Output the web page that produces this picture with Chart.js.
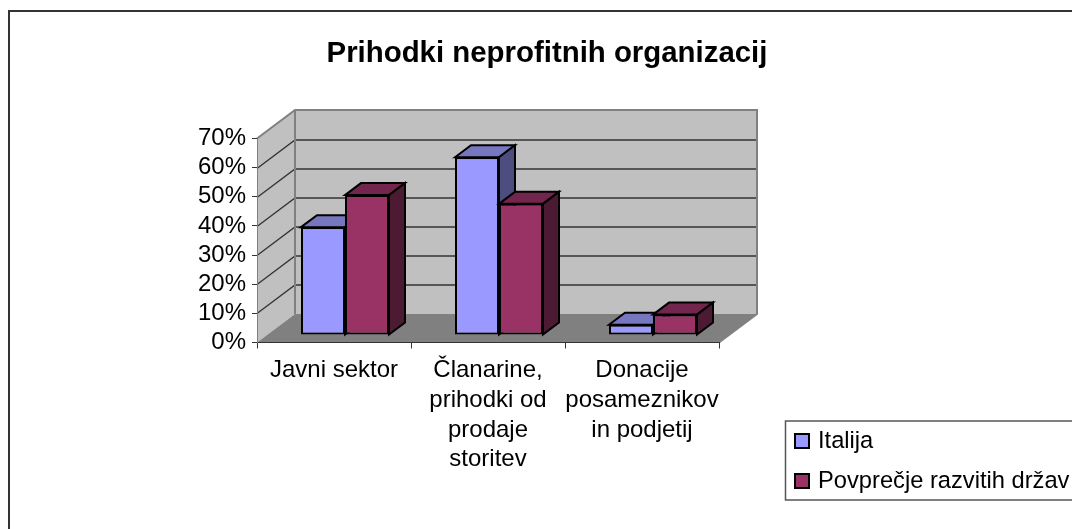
<!DOCTYPE html>
<html>
<head>
<meta charset="utf-8">
<title>Prihodki neprofitnih organizacij</title>
<script src="https://cdn.jsdelivr.net/npm/chart.js@4"></script>
<style>
    body { margin: 0; background: #fff; }
    canvas { display: block; }
</style>
</head>
<body>
<canvas id="graf" width="1072" height="529"></canvas>
<script>
const naslov = 'Prihodki neprofitnih organizacij';
const kategorije = [
    ['Javni sektor'],
    ['Članarine,', 'prihodki od', 'prodaje', 'storitev'],
    ['Donacije', 'posameznikov', 'in podjetij']
];
const italija = [37, 61, 3.5];
const povprecje = [48, 45, 7];
const imenaSerij = ['Italija', 'Povprečje razvitih držav'];

const pisava = 'Arial, "Liberation Sans", sans-serif';

// globina "3D" ozadja in stolpcev
const stena = { dx: 38, dy: 28.5 };
const zamik = { dx: 11, dy: 7.5 };
const stolpec = { dx: 16, dy: 12 };

function lik(ctx, tocke, barva) {
    ctx.beginPath();
    tocke.forEach((t, i) => i ? ctx.lineTo(t[0], t[1]) : ctx.moveTo(t[0], t[1]));
    ctx.closePath();
    ctx.fillStyle = barva;
    ctx.fill();
}

const ozadje3d = {
    id: 'ozadje3d',
    afterLayout(chart) {
        // naslov je centriran na celotno sliko z odmikom, ne na podrocje grafa
        chart.titleBlock.left = 22;
        chart.titleBlock.right = 1072;
    },
    beforeDraw(chart) {
        const ctx = chart.ctx;
        const { left, right, top, bottom } = chart.chartArea;
        const y = chart.scales.y;
        const zl = left + stena.dx, zr = right + stena.dx;
        const zt = top - stena.dy, zb = bottom - stena.dy;

        ctx.save();
        // okvir grafa
        ctx.strokeStyle = '#333333';
        ctx.lineWidth = 2;
        ctx.beginPath();
        ctx.moveTo(9, 529);
        ctx.lineTo(9, 11);
        ctx.lineTo(1072, 11);
        ctx.stroke();

        lik(ctx, [[zl, zt], [zr, zt], [zr, zb], [zl, zb]], '#c0c0c0');
        lik(ctx, [[left, top], [zl, zt], [zl, zb], [left, bottom]], '#c0c0c0');
        lik(ctx, [[left, bottom], [right, bottom], [zr, zb], [zl, zb]], '#808080');

        // mreza na steni
        ctx.strokeStyle = '#333333';
        ctx.lineWidth = 1.3;
        y.ticks.forEach(t => {
            if (t.value === 0 || t.value === y.max) return;
            const py = Math.round(y.getPixelForValue(t.value)) + 0.5;
            ctx.beginPath();
            ctx.moveTo(left, py);
            ctx.lineTo(zl, py - stena.dy);
            ctx.lineTo(zr, py - stena.dy);
            ctx.stroke();
        });

        // robovi sten
        ctx.strokeStyle = '#808080';
        ctx.lineWidth = 2;
        ctx.beginPath();
        ctx.moveTo(left, top);
        ctx.lineTo(zl, zt);
        ctx.lineTo(zr, zt);
        ctx.lineTo(zr, zb);
        ctx.lineTo(right, bottom);
        ctx.moveTo(zl, zt);
        ctx.lineTo(zl, zb);
        ctx.stroke();
        ctx.restore();
    },
    beforeDatasetsDraw(chart) {
        // Chart.js riše zadnjo serijo prvo, tukaj pa mora biti desni stolpec spredaj
        const ctx = chart.ctx;
        chart.data.datasets.forEach((ds, index) => {
            const meta = chart.getDatasetMeta(index);
            ctx.save();
            ctx.translate(zamik.dx, -zamik.dy);
            ctx.strokeStyle = '#000';
            ctx.lineWidth = 2;
            meta.data.forEach(bar => {
                const l = bar.x - bar.width / 2, r = bar.x + bar.width / 2;
                const d = stolpec.dx, g = stolpec.dy;
                const vrh = [[l, bar.y], [l + d, bar.y - g], [r + d, bar.y - g], [r, bar.y]];
                const bok = [[r, bar.y], [r + d, bar.y - g], [r + d, bar.base - g], [r, bar.base]];
                lik(ctx, vrh, ds.barvaVrh);
                ctx.stroke();
                lik(ctx, bok, ds.barvaBok);
                ctx.stroke();
            });
            meta.controller.draw();
            ctx.restore();
        });
        return false;
    },
    afterDraw(chart) {
        const ctx = chart.ctx;
        ctx.save();
        // legenda
        ctx.strokeStyle = '#555555';
        ctx.lineWidth = 1.5;
        ctx.beginPath();
        ctx.moveTo(1072, 421);
        ctx.lineTo(785.5, 421);
        ctx.lineTo(785.5, 500);
        ctx.lineTo(1072, 500);
        ctx.stroke();
        ctx.font = '23.7px ' + pisava;
        ctx.textBaseline = 'middle';
        imenaSerij.forEach((ime, i) => {
            const sy = 441 + i * 40;
            ctx.fillStyle = chart.data.datasets[i].backgroundColor;
            ctx.strokeStyle = '#000';
            ctx.lineWidth = 2;
            ctx.fillRect(795, sy - 7, 14, 14);
            ctx.strokeRect(795, sy - 7, 14, 14);
            ctx.fillStyle = '#000';
            ctx.fillText(ime, 818, sy);
        });
        ctx.restore();
    }
};

new Chart(document.getElementById('graf'), {
    type: 'bar',
    plugins: [ozadje3d],
    data: {
        labels: kategorije,
        datasets: [
            {
                label: imenaSerij[0],
                data: italija,
                backgroundColor: '#9999ff',
                barvaVrh: '#7777bf',
                barvaBok: '#4d4d80'
            },
            {
                label: imenaSerij[1],
                data: povprecje,
                backgroundColor: '#993366',
                barvaVrh: '#73264d',
                barvaBok: '#4d1a33'
            }
        ]
    },
    options: {
        responsive: false,
        animation: false,
        borderColor: '#000',
        borderWidth: 2,
        borderSkipped: false,
        barPercentage: 1,
        categoryPercentage: 88 / 154,
        layout: { autoPadding: false, padding: { left: 0, right: 353, top: 0, bottom: 0 } },
        plugins: {
            legend: { display: false },
            tooltip: { enabled: false },
            title: {
                display: true,
                text: naslov,
                color: '#000',
                font: { family: pisava, size: 29.4, weight: 'bold', lineHeight: 1.2 },
                padding: { top: 36.5, bottom: 66.7 }
            }
        },
        scales: {
            x: {
                afterFit(scale) { scale.height = 186.5; },
                grid: { drawOnChartArea: false, tickLength: 6, tickColor: '#333333' },
                border: { color: '#333333', width: 1 },
                ticks: {
                    maxRotation: 0,
                    autoSkip: false,
                    padding: 7,
                    color: '#000',
                    font: { family: pisava, size: 24, lineHeight: 1.24 }
                }
            },
            y: {
                min: 0,
                max: 70,
                afterFit(scale) { scale.width = 257; },
                grid: { drawOnChartArea: false, tickLength: 5, tickColor: '#333333' },
                border: { color: '#808080', width: 1 },
                ticks: {
                    stepSize: 10,
                    autoSkip: false,
                    padding: 6,
                    color: '#000',
                    font: { family: pisava, size: 24 },
                    callback: function(value) { return value + '%'; }
                }
            }
        }
    }
});
</script>
</body>
</html>
